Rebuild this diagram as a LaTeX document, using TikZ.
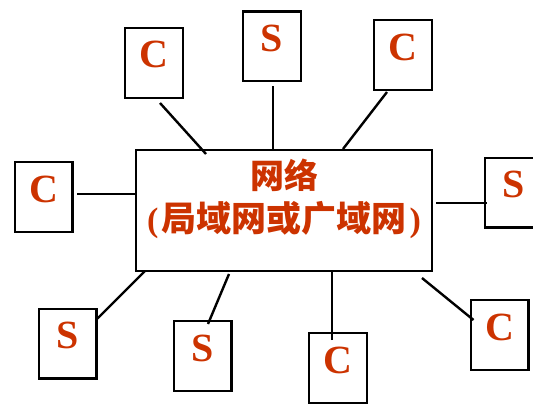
\documentclass[tikz,border=0pt]{standalone}
\usepackage{fontspec}
\setmainfont{Liberation Serif}
\newfontfamily\cjk{Noto Sans CJK SC}
\usetikzlibrary{calc}
\definecolor{netred}{RGB}{204,51,0}
\tikzset{
  hostbox/.style={draw, line width=2.4pt, minimum width=57.6pt, minimum height=69.6pt,
    inner sep=0pt, text=netred, font=\fontsize{40}{40}\selectfont\bfseries,
    text height=26pt, text depth=16pt},
  netbox/.style={draw, line width=2.4pt, minimum width=295.6pt, minimum height=120.6pt},
  nettext/.style={text=netred, align=center, font=\fontsize{34}{43}\selectfont\bfseries},
  wire/.style={line width=2.4pt}
}
\begin{document}
\begin{tikzpicture}[x=1pt,y=-1pt]
    \useasboundingbox (0,0) rectangle (533,404);
    \node[netbox] (net) at (284,210.5) {};
    \node[nettext] (nettxt) at (284,199)
      {{\cjk 网络}\\(\hspace{3pt}{\fontsize{35}{43}\selectfont\cjk 局域网或广域网}\hspace{3pt})};
    % hosts round the network
    \node[hostbox] (c1) at (154,63) {C};
    \node[hostbox] (s1) at (272,46.5) {S};
    \node[hostbox] (c2) at (403,55) {C};
    \node[hostbox] (c3) at (43.5,197) {C};
    \node[hostbox] (s2) at (514,192.5) {S};
    \node[hostbox] (s3) at (67.5,343.5) {S};
    \node[hostbox] (s4) at (202.5,356) {S};
    \node[hostbox] (c4) at (338,368) {C};
    \node[hostbox] (c5) at (499.5,335) {C};
    % connectors
    \draw[wire] ($(c1.south)+(6,4)$) -- ($(net.north)+(-78,5)$);
    \draw[wire] ($(s1.south)+(1,4)$) -- ($(net.north)+(-11,2)$);
    \draw[wire] ($(c2.south)+(-16,1)$) -- ($(net.north)+(59,0)$);
    \draw[wire] ($(c3.east)+(3.5,-3)$) -- ($(net.west)+(0,-16.5)$);
    \draw[wire] ($(net.east)+(3,-7.5)$) -- ($(s2.west)+(3,10.5)$);
    \draw[wire] ($(s3.north east)+(0,11)$) -- ($(net.south west)+(10,-1)$);
    \draw[wire] ($(s4.north)+(5.5,4)$) -- ($(net.south)+(-55,2)$);
    \draw[wire] ($(c4.north)+(-6,8)$) -- ($(net.south)+(48,0)$);
    \draw[wire] ($(c5.west)+(4,-15)$) -- ($(net.south east)+(-11,6)$);
\end{tikzpicture}
\end{document}
